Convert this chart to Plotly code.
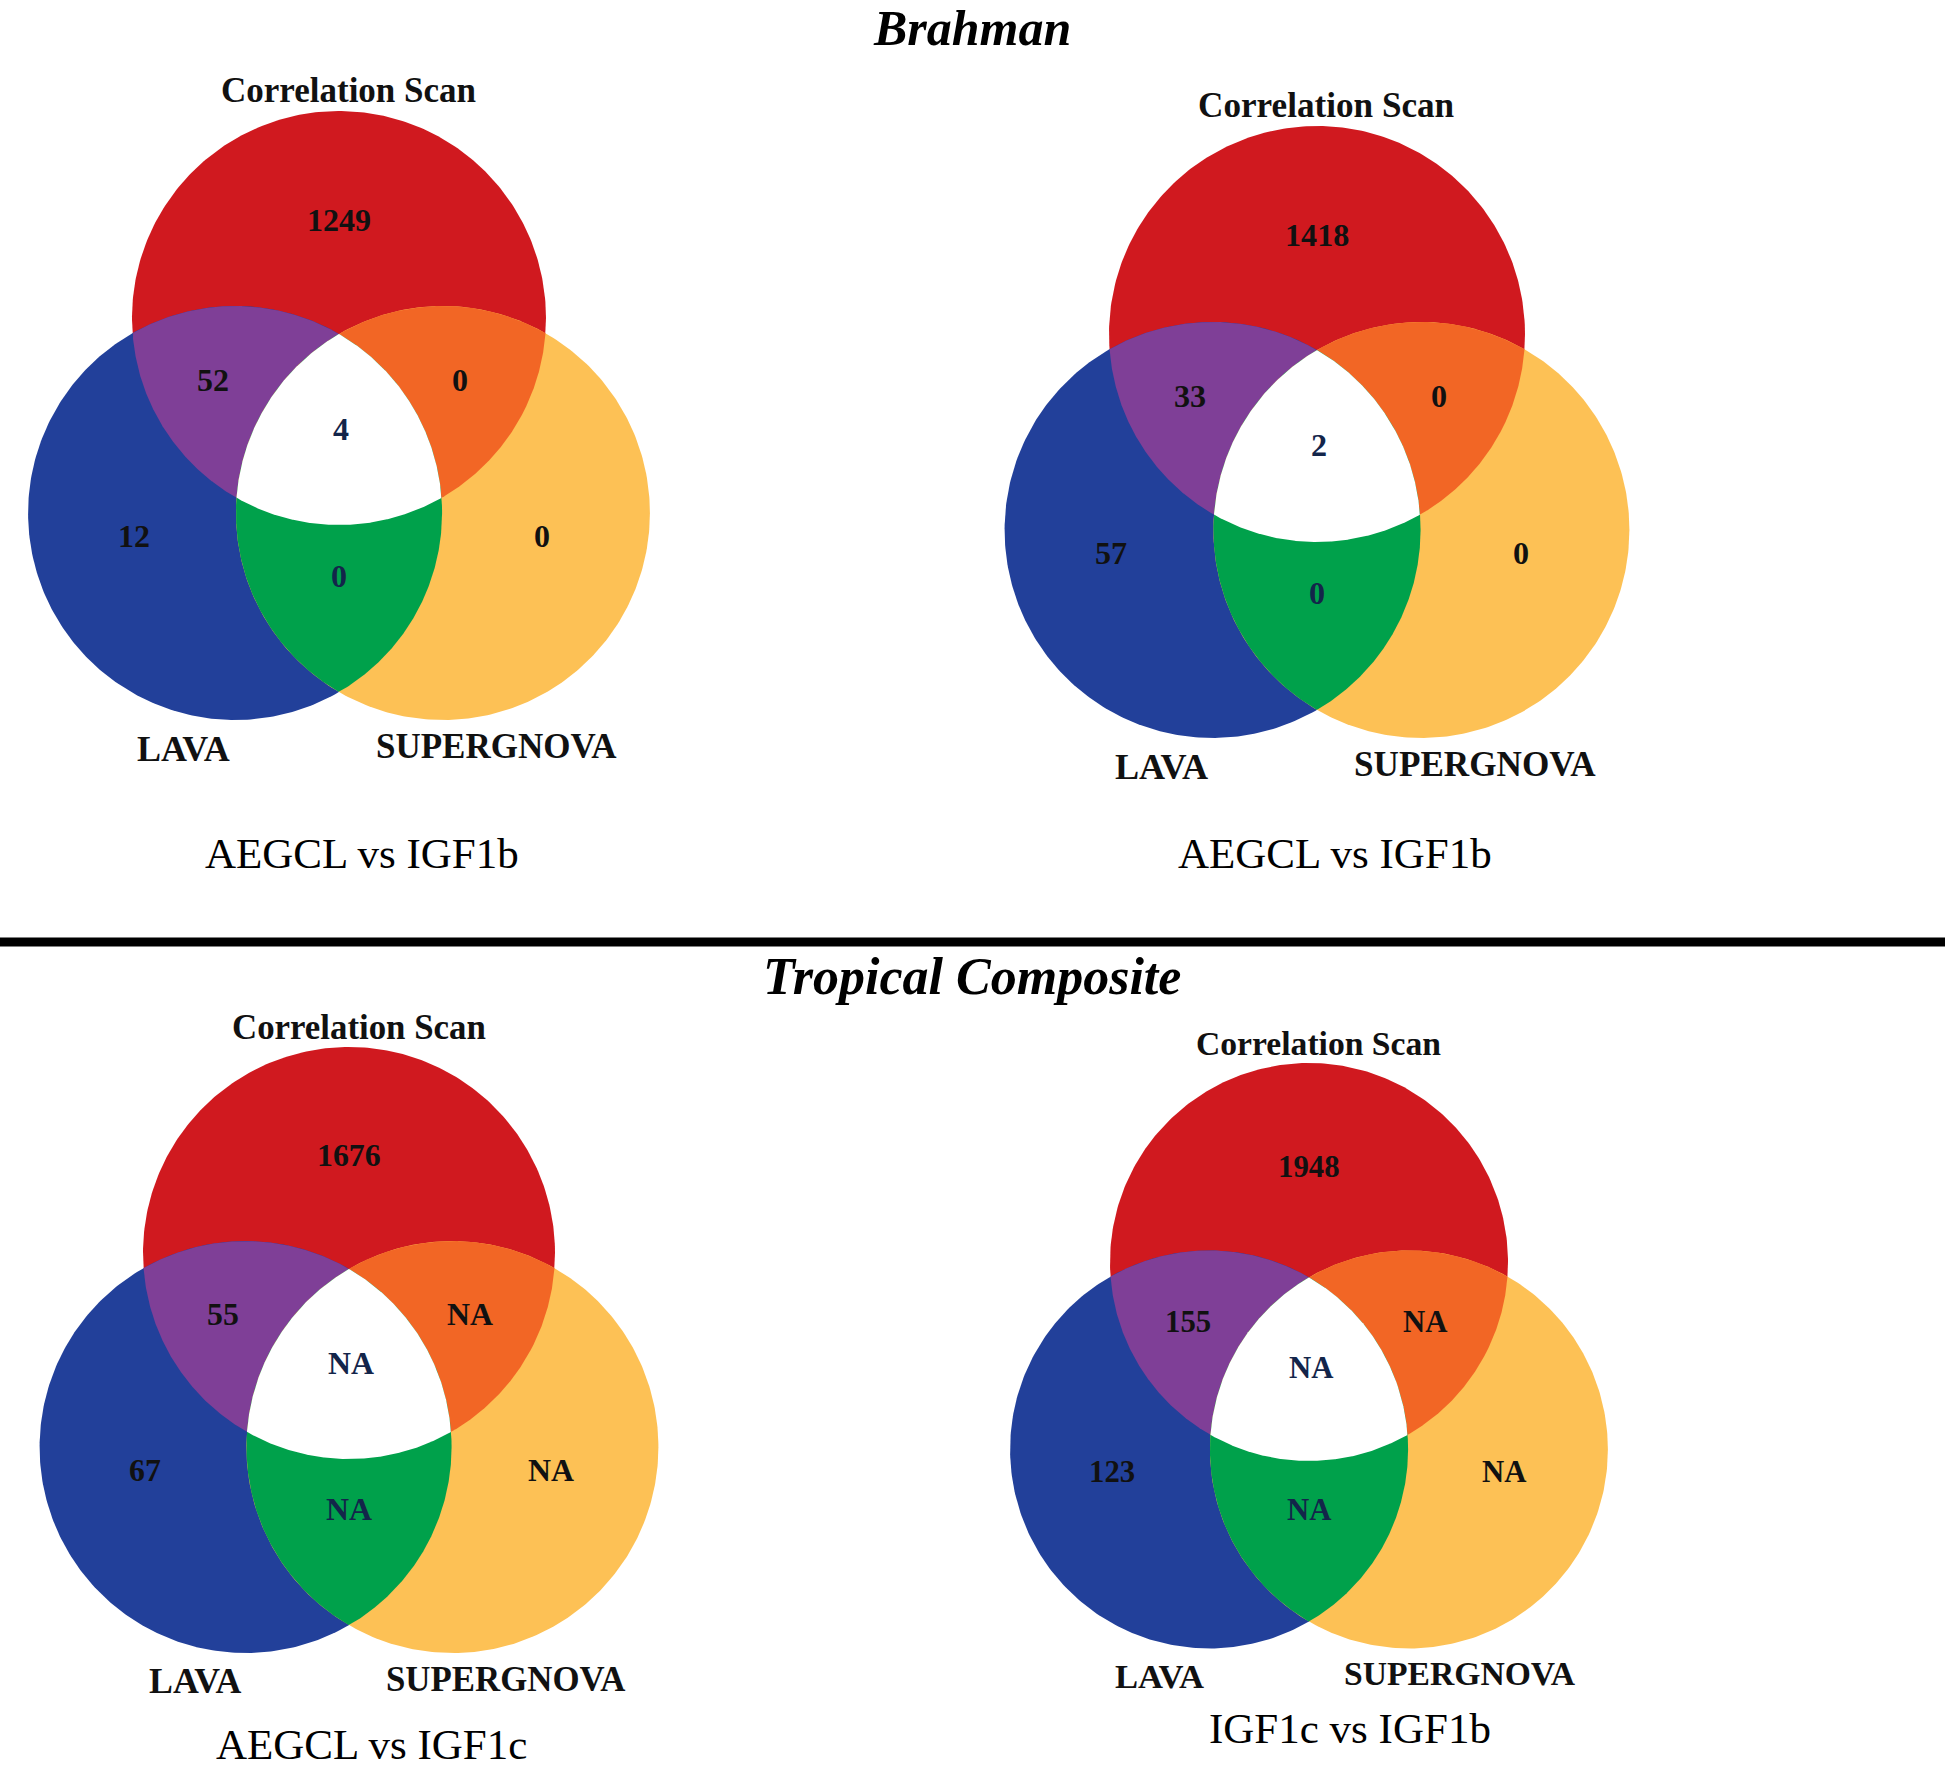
import numpy as np
import plotly.graph_objects as go

W, H = 1945, 1770
FONT = "Liberation Serif"

# ---------------- data ----------------
GROUP_TITLES = ["Brahman", "Tropical Composite"]
SET_NAMES = ["Correlation Scan", "LAVA", "SUPERGNOVA"]
PANEL_TITLES = ["AEGCL vs IGF1b", "AEGCL vs IGF1b", "AEGCL vs IGF1c", "IGF1c vs IGF1b"]
# region order: only CorrScan, CorrScan&LAVA, CorrScan&SUPERGNOVA, all three,
#               only LAVA, LAVA&SUPERGNOVA, only SUPERGNOVA   (None = NA)
brahman_a = [1249, 52, 0, 4, 12, 0, 0]
brahman_b = [1418, 33, 0, 2, 57, 0, 0]
tropical_a = [1676, 55, None, None, 67, None, None]
tropical_b = [1948, 155, None, None, 123, None, None]
PANEL_COUNTS = [brahman_a, brahman_b, tropical_a, tropical_b]

# ---------------- layout / style ----------------
PANELS = [
    dict(cx=339, cy=318, r=207, sub=(362, 853)),
    dict(cx=1317, cy=334, r=208, sub=(1335, 853)),
    dict(cx=349, cy=1253, r=206, sub=(371, 1744)),
    dict(cx=1309, cy=1262, r=199, sub=(1350, 1728)),
]
C_RED, C_BLUE, C_YEL = "#D0191F", "#22409A", "#FDC155"
C_PUR, C_ORA, C_GRN = "#7F3F97", "#F26625", "#00A14B"
C_DARK = "#13254A"
# label offsets (fraction of radius) relative to the red circle centre
REGION_OFF = [(0.0, -0.475), (-0.61, 0.30), (0.585, 0.30), (0.01, 0.535),
              (-0.99, 1.055), (0.0, 1.245), (0.98, 1.055)]
REGION_COL = ["#111111", "#111111", "#111111", C_DARK, "#111111", C_DARK, "#111111"]
SET_OFF = [(0.048, -1.097), (-0.75, 2.08), (0.76, 2.07)]
SET_SIZE = [35, 36, 35]

fig = go.Figure()


def circle_pts(cx, cy, r, n=400):
    t = np.linspace(0, 2 * np.pi, n)
    return cx + r * np.cos(t), cy + r * np.sin(t)


def intersection_pts(circles, n=900):
    c0 = np.mean([[c[0], c[1]] for c in circles], axis=0)
    th = np.linspace(0, 2 * np.pi, n)
    ux, uy = np.cos(th), np.sin(th)
    t = np.full(n, np.inf)
    for cx, cy, r in circles:
        dx, dy = c0[0] - cx, c0[1] - cy
        b = ux * dx + uy * dy
        cc = dx * dx + dy * dy - r * r
        ti = -b + np.sqrt(b * b - cc)
        t = np.minimum(t, ti)
    return c0[0] + t * ux, c0[1] + t * uy


def add_fill(x, y, color):
    fig.add_trace(go.Scatter(x=x, y=y, mode="lines", fill="toself",
                             fillcolor=color, line=dict(width=0, color=color),
                             hoverinfo="skip", showlegend=False))


annotations = []
for p, counts in zip(PANELS, PANEL_COUNTS):
    cx, cy, r = p["cx"], p["cy"], p["r"]
    s = r / 207.0
    red = (cx, cy, r)
    blue = (cx - 0.502 * r, cy + 0.942 * r, r)
    yel = (cx + 0.502 * r, cy + 0.942 * r, r)
    for c, col in [(red, C_RED), (blue, C_BLUE), (yel, C_YEL)]:
        add_fill(*circle_pts(*c), col)
    for pair, col in [((red, blue), C_PUR), ((red, yel), C_ORA), ((blue, yel), C_GRN)]:
        add_fill(*intersection_pts(pair), col)
    add_fill(*intersection_pts((red, blue, yel)), "#FFFFFF")

    for val, (ox, oy), col in zip(counts, REGION_OFF, REGION_COL):
        annotations.append(dict(
            x=cx + ox * r, y=cy + oy * r, xref="x", yref="y",
            text="<b>%s</b>" % ("NA" if val is None else val), showarrow=False,
            font=dict(family=FONT, size=32 * s, color=col),
            xanchor="center", yanchor="middle"))
    for name, (ox, oy), fs in zip(SET_NAMES, SET_OFF, SET_SIZE):
        annotations.append(dict(
            x=cx + ox * r, y=cy + oy * r, xref="x", yref="y",
            text="<b>%s</b>" % name, showarrow=False,
            font=dict(family=FONT, size=fs * s, color="#111111"),
            xanchor="center", yanchor="middle"))

for title, (sx, sy) in zip(PANEL_TITLES, [p["sub"] for p in PANELS]):
    annotations.append(dict(
        x=sx, y=sy, xref="x", yref="y", text=title, showarrow=False,
        font=dict(family=FONT, size=43, color="#000000"),
        xanchor="center", yanchor="middle"))

for title, ty, fs in zip(GROUP_TITLES, [28, 976], [50, 52]):
    annotations.append(dict(
        x=972, y=ty, xref="x", yref="y", text="<b><i>%s</i></b>" % title,
        showarrow=False, font=dict(family=FONT, size=fs, color="#000000"),
        xanchor="center", yanchor="middle"))

fig.update_layout(
    width=W, height=H, autosize=False,
    margin=dict(l=0, r=0, t=0, b=0, pad=0),
    paper_bgcolor="white", plot_bgcolor="white",
    xaxis=dict(range=[0, W], visible=False, fixedrange=True, domain=[0, 1]),
    yaxis=dict(range=[H, 0], visible=False, fixedrange=True, domain=[0, 1]),
    annotations=annotations,
    shapes=[dict(type="line", xref="x", yref="y", x0=0, x1=W, y0=942, y1=942,
                 line=dict(color="black", width=9))],
    showlegend=False,
)

fig.write_html("out.html", include_plotlyjs=True,
               config=dict(displayModeBar=False, staticPlot=True),
               post_script="document.body.style.margin='0';document.body.style.overflow='hidden';")
